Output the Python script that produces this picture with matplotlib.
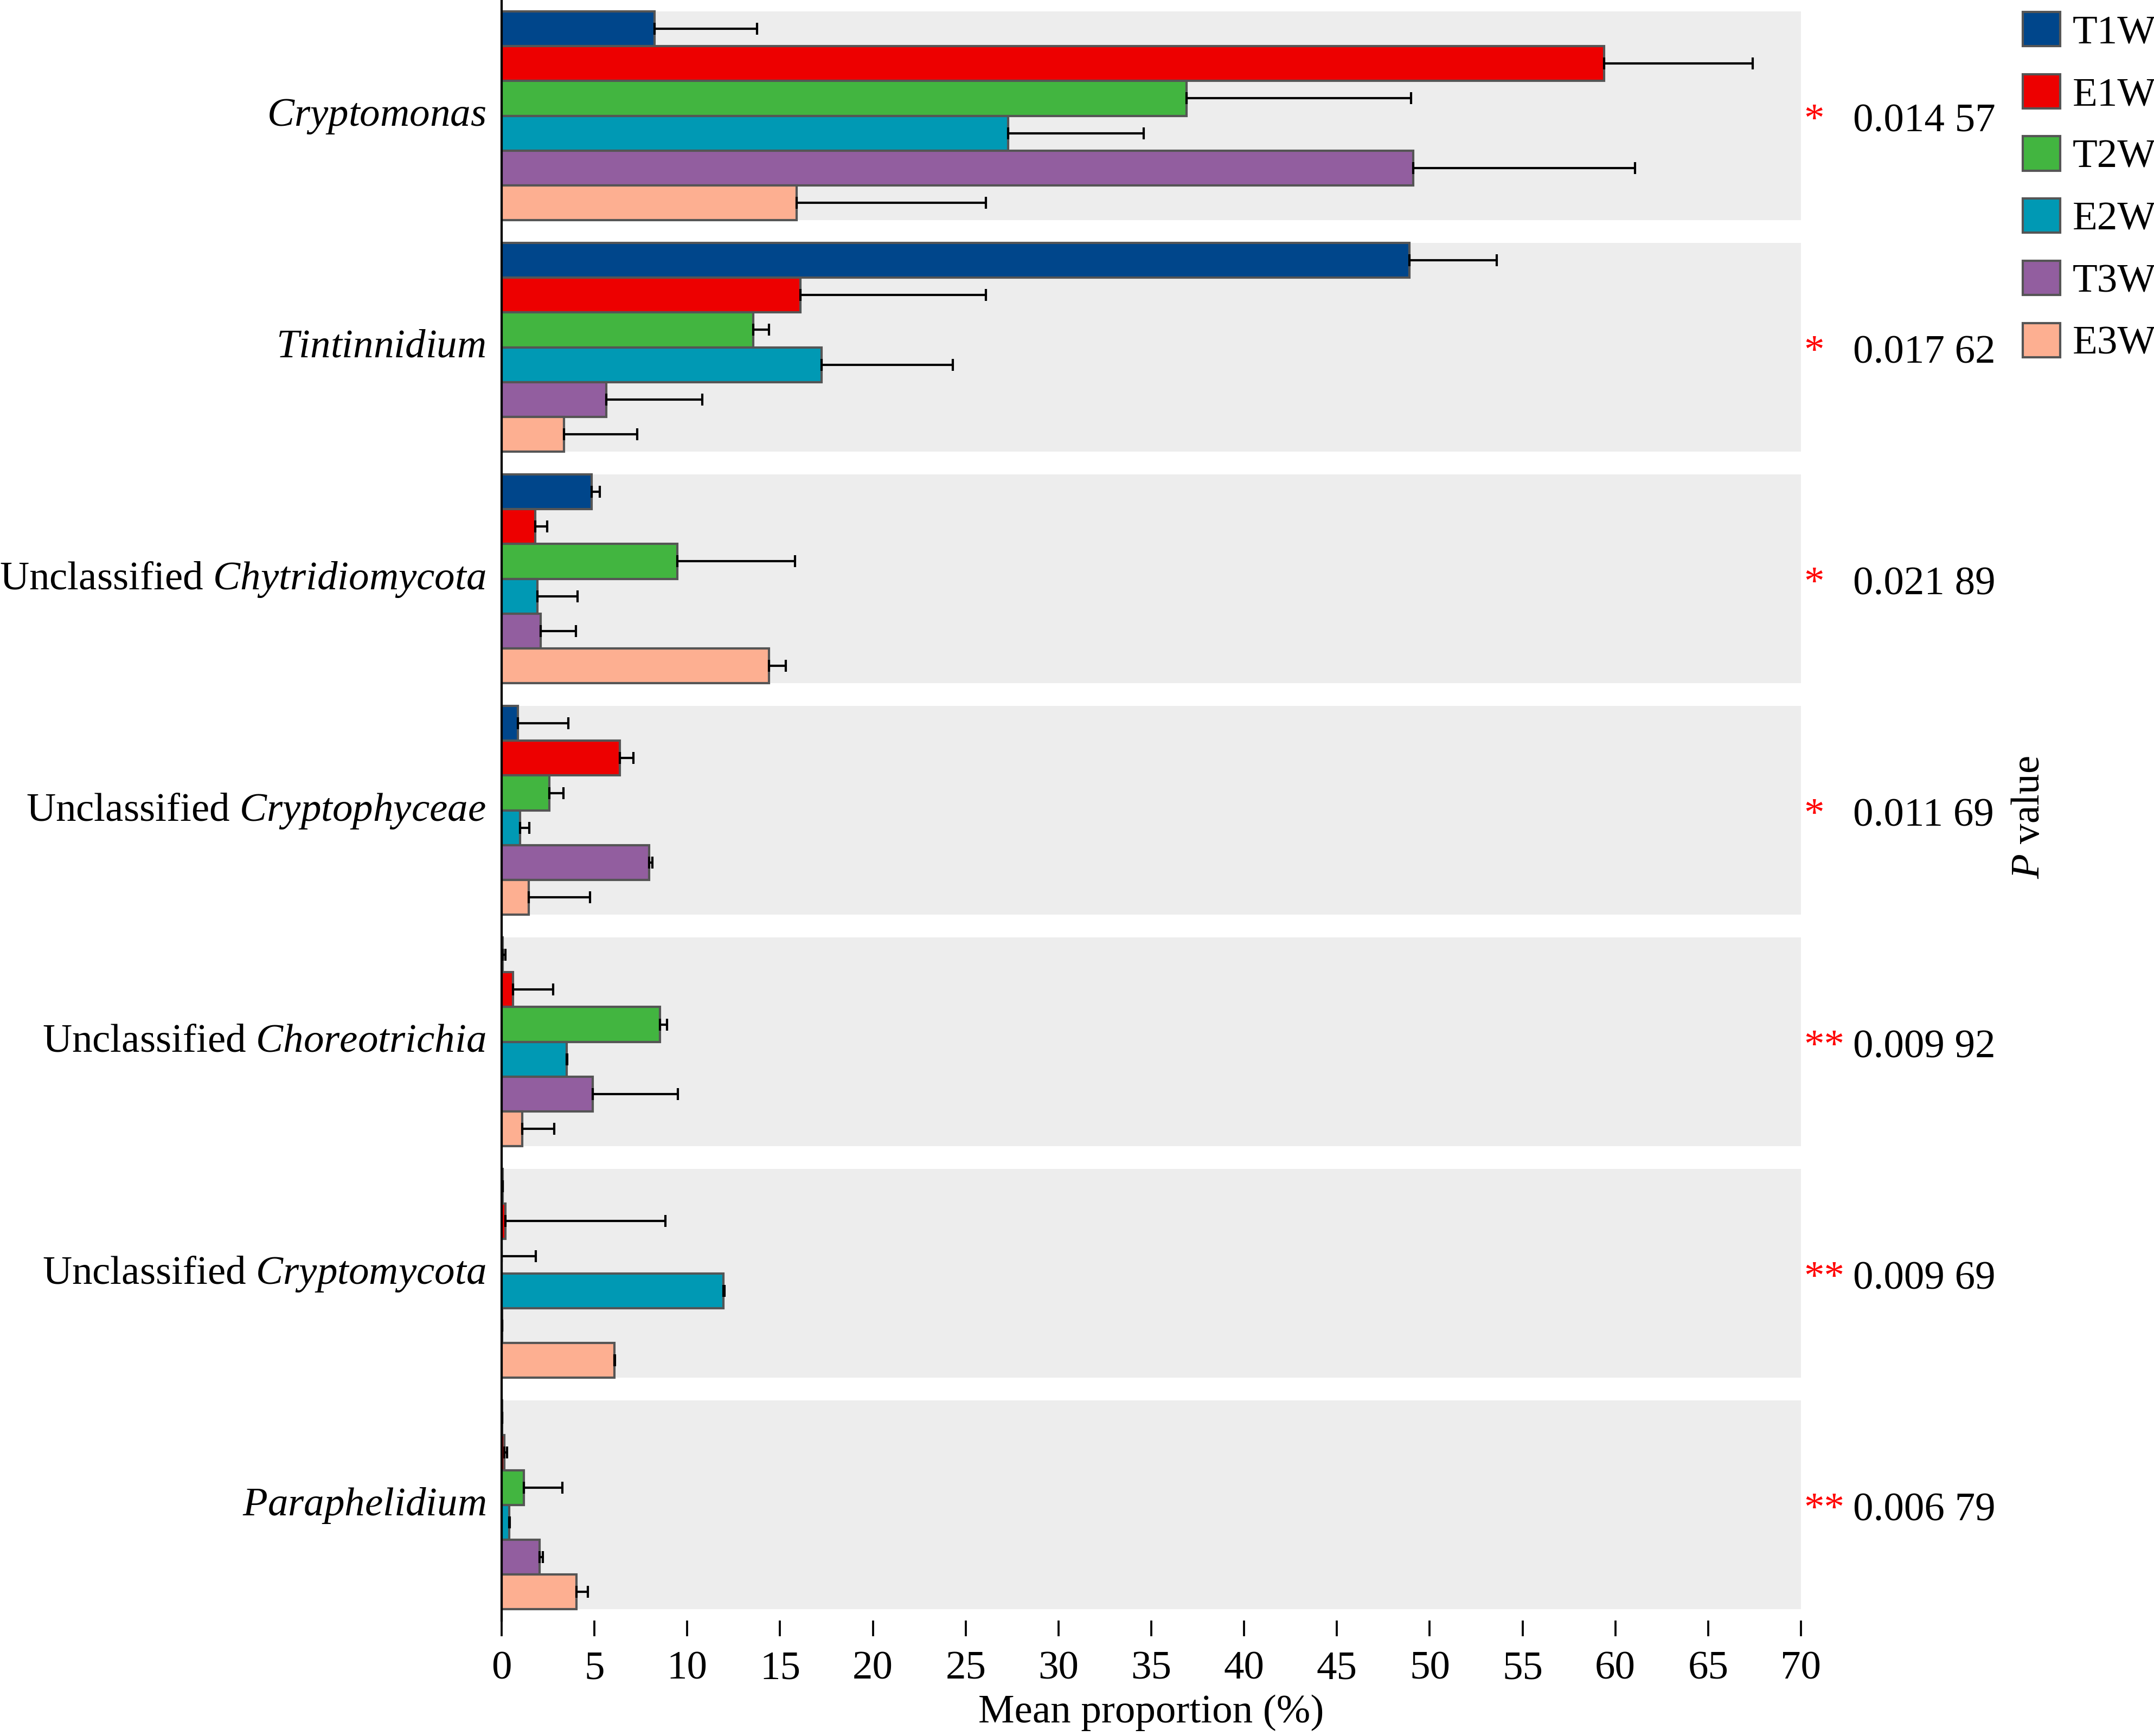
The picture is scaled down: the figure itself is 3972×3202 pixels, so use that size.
import matplotlib
matplotlib.use('Agg')
import matplotlib.pyplot as plt
import matplotlib.patches as mpatches
from matplotlib.transforms import ScaledTranslation
import numpy as np

plt.rcParams['font.family'] = ['Liberation Serif', 'DejaVu Serif']
plt.rcParams['mathtext.fontset'] = 'custom'
plt.rcParams['mathtext.rm'] = 'Liberation Serif'
plt.rcParams['mathtext.it'] = 'Liberation Serif:italic'

# categories (top to bottom)
taxa = [r'$\mathit{Cryptomonas}$',
        r'$\mathit{Tintinnidium}$',
        r'Unclassified $\mathit{Chytridiomycota}$',
        r'Unclassified $\mathit{Cryptophyceae}$',
        r'Unclassified $\mathit{Choreotrichia}$',
        r'Unclassified $\mathit{Cryptomycota}$',
        r'$\mathit{Paraphelidium}$']
groups = ['T1W', 'E1W', 'T2W', 'E2W', 'T3W', 'E3W']
colors = ['#00468B', '#ED0000', '#42B540', '#0099B4', '#925E9F', '#FDAF91']

# mean proportion (%) per group, one value per taxon
T1W = [8.25, 48.9, 4.85, 0.87, 0.05, 0.05, 0.03]
E1W = [59.4, 16.1, 1.81, 6.36, 0.6, 0.19, 0.15]
T2W = [36.9, 13.55, 9.47, 2.57, 8.52, 0.0, 1.19]
E2W = [27.3, 17.25, 1.92, 1.0, 3.49, 11.95, 0.41]
T3W = [49.1, 5.65, 2.09, 7.93, 4.9, 0.02, 2.03]
E3W = [15.9, 3.36, 14.4, 1.45, 1.12, 6.08, 4.03]

# upper end of the error bar (mean + sd)
T1W_err = [13.75, 53.6, 5.3, 3.6, 0.19, 0.05, 0.03]
E1W_err = [67.4, 26.1, 2.46, 7.1, 2.78, 8.82, 0.28]
T2W_err = [49.0, 14.4, 15.8, 3.34, 8.9, 1.85, 3.26]
E2W_err = [34.6, 24.3, 4.1, 1.5, 3.54, 12.0, 0.43]
T3W_err = [61.05, 10.8, 4.0, 8.13, 9.49, 0.02, 2.22]
E3W_err = [26.1, 7.3, 15.3, 4.75, 2.83, 6.1, 4.64]

stars = ['*', '*', '*', '*', '**', '**', '**']
pvals = ['0.014 57', '0.017 62', '0.021 89', '0.011 69', '0.009 92', '0.009 69', '0.006 79']

means = [T1W, E1W, T2W, E2W, T3W, E3W]
uppers = [T1W_err, E1W_err, T2W_err, E2W_err, T3W_err, E3W_err]

fig = plt.figure(figsize=(3972 / 300, 3202 / 300), dpi=300)
ax = fig.add_axes([0.2329, 0.0665, 0.8361 - 0.2329, 1 - 0.0665])

y = np.arange(len(taxa))
panel_h = 0.9
bar_h = panel_h / len(groups)

# grey panels behind each taxon
ax.barh(y, 70, height=panel_h, color='#EDEDED', zorder=0, linewidth=0)

for k, (g, c, m, u) in enumerate(zip(groups, colors, means, uppers)):
    pos = y - panel_h / 2 + bar_h * (k + 0.5)
    m = np.array(m)
    up = np.array(u) - m
    ax.barh(pos, m, height=bar_h, color=c, edgecolor='#555555', linewidth=1.0, zorder=2)
    ax.errorbar(m, pos, xerr=[np.zeros_like(m), up], fmt='none', ecolor='black',
                elinewidth=1.0, capsize=2.7, capthick=1.0, zorder=3)

ax.set_xlim(0, 70)
ax.set_ylim(len(taxa) - 0.5, -0.5)
ax.set_xticks(np.arange(0, 71, 5))
ax.set_yticks(y)
ax.set_yticklabels(taxa)
ax.tick_params(axis='y', length=0, pad=7, labelsize=18)
ax.tick_params(axis='x', length=7, width=0.9, direction='out', labelsize=18, pad=6.5)
ax.set_xlabel('Mean proportion (%)', fontsize=18, labelpad=3)
for s in ['top', 'right', 'bottom']:
    ax.spines[s].set_visible(False)
ax.spines['left'].set_linewidth(1.0)
ax.set_facecolor('none')

# nudge the taxon names up a little
up_shift = ScaledTranslation(0, 8 / 300, fig.dpi_scale_trans)
for lab in ax.get_yticklabels():
    lab.set_transform(lab.get_transform() + up_shift)

down_shift = ax.transData + ScaledTranslation(0, -11 / 300, fig.dpi_scale_trans)
for i in range(len(taxa)):
    ax.text(70.15, y[i], stars[i], color='red', fontsize=18, va='center', ha='left',
            clip_on=False, transform=down_shift)
    ax.text(72.8, y[i], pvals[i], color='black', fontsize=18, va='center', ha='left',
            clip_on=False, transform=down_shift)

fig.text(3742 / 3972, 1 - 1508 / 3202, r'$\mathit{P}$ value', rotation=90,
         fontsize=18, ha='center', va='center')

handles = [mpatches.Patch(facecolor=c, edgecolor='#555555', linewidth=1.0, label=g)
           for g, c in zip(groups, colors)]
fig.legend(handles=handles, loc='upper left', bbox_to_anchor=(3730 / 3972, 1 - 22 / 3202),
           frameon=False, fontsize=18, handlelength=0.92, handleheight=0.92,
           handletextpad=0.3, labelspacing=0.55, borderaxespad=0, borderpad=0)

fig.savefig('out.png', dpi=300)
